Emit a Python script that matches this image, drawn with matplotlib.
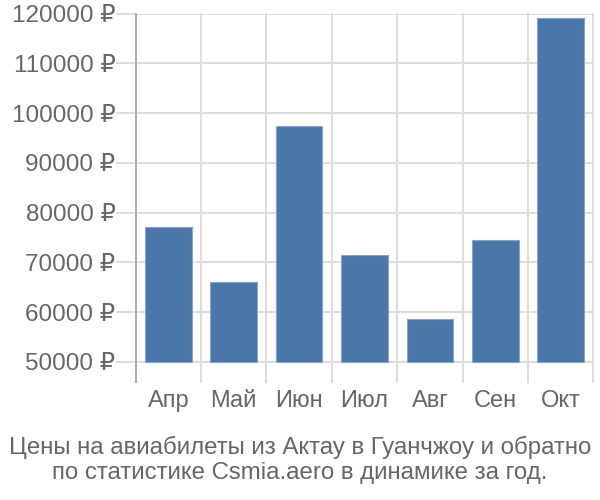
import matplotlib
matplotlib.use("Agg")
import matplotlib.pyplot as plt
import numpy as np

months = ["Апр", "Май", "Июн", "Июл", "Авг", "Сен", "Окт"]
prices = [77100, 66000, 97400, 71500, 58700, 74400, 119200]
yticks = [50000, 60000, 70000, 80000, 90000, 100000, 110000, 120000]
title_lines = [
    "Цены на авиабилеты из Актау в Гуанчжоу и обратно",
    "по статистике Csmia.aero в динамике за год.",
]

plt.rcParams["font.family"] = ["Liberation Sans", "DejaVu Sans"]
text_color = "#666666"
grid_color = "#dddddd"

fig = plt.figure(figsize=(6, 5), dpi=100)
ax = fig.add_axes([0.226, 0.2366, 0.763, 0.736])

x = np.arange(len(months))
base = yticks[0]
ax.bar(x, [p - base for p in prices], bottom=base, width=0.71,
       color="#4a77a8", edgecolor="#86a5c8", linewidth=0.8, zorder=3)

ax.set_xlim(-0.5, len(months) - 0.5)
ax.set_ylim(46000, 120000)

# vertical separators between months
for b in np.arange(len(months) + 1) - 0.5:
    ax.axvline(b, color=grid_color, lw=1.4, zorder=1, clip_on=False)

ax.set_yticks(yticks)
ax.set_yticklabels([f"{v} ₽" for v in yticks])
ax.yaxis.grid(True, color=grid_color, lw=1.4, zorder=1)
ax.set_xticks(x)
ax.set_xticklabels(months)

for s in ("top", "right", "bottom"):
    ax.spines[s].set_visible(False)
ax.spines["left"].set_color("#aaaaaa")
ax.spines["left"].set_linewidth(1.4)
ax.spines["left"].set_zorder(4)

ax.tick_params(axis="y", length=14.4, width=1.4, color=grid_color,
               labelsize=17.5, labelcolor=text_color, pad=0)
ax.tick_params(axis="x", length=0, labelsize=17, labelcolor=text_color, pad=6)

fig.text(0.5, 0.106, title_lines[0], ha="center", va="center",
         fontsize=17.3, color=text_color)
fig.text(0.5, 0.055, title_lines[1], ha="center", va="center",
         fontsize=17.3, color=text_color)

fig.savefig("out.png", dpi=100)
